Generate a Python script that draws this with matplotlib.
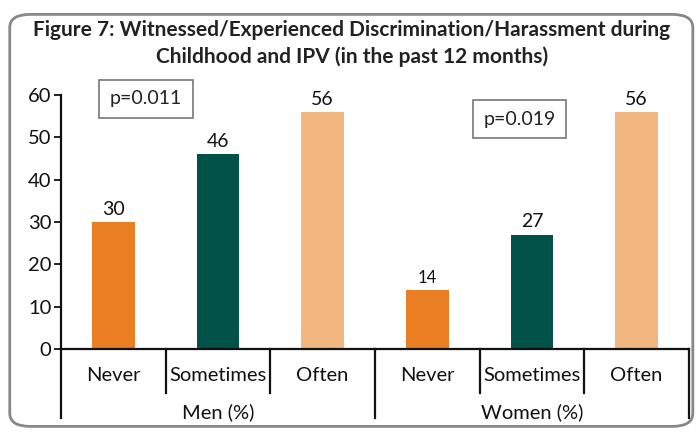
import matplotlib
matplotlib.use('Agg')
import matplotlib.pyplot as plt
from matplotlib.patches import FancyBboxPatch
from matplotlib.lines import Line2D

plt.rcParams['font.family'] = ['Lato', 'DejaVu Sans']

# ── 데이터 ────────────────────────────────────────────────────────────────
groups     = ['Men (%)', 'Women (%)']
categories = ['Never', 'Sometimes', 'Often']
men_vals   = [30, 46, 56]
women_vals = [14, 27, 56]
p_values   = ['p=0.011', 'p=0.019']
title      = ('Figure 7: Witnessed/Experienced Discrimination/Harassment during\n'
              'Childhood and IPV (in the past 12 months)')

COLORS = ['#E97E22', '#02524A', '#F2B680']

fig = plt.figure(figsize=(6.97, 4.36), dpi=100)
ax = fig.add_axes([0.0875, 0.1995, 0.901, 0.5825])

values = men_vals + women_vals
xs = list(range(len(values)))
ax.bar(xs, values, width=0.41, color=COLORS * 2, zorder=2)

# 값 라벨 (작은 값은 글자도 작게)
for x, v in zip(xs, values):
    size = 12 if v < 20 else 14
    ax.text(x, v + 1.0, f'{v}', ha='center', va='bottom', fontsize=size, color='#111')

ax.set_xlim(-0.5, len(values) - 0.5)
ax.set_ylim(0, 60)
ax.set_yticks(range(0, 61, 10))
ax.tick_params(axis='y', labelsize=14.5, length=5, width=1.3, pad=2, colors='#111')
ax.set_xticks([])
for s in ('top', 'right'):
    ax.spines[s].set_visible(False)
for s in ('left', 'bottom'):
    ax.spines[s].set_linewidth(1.6)
    ax.spines[s].set_color('#111')

# 카테고리 / 그룹 라벨과 구분선 (axes 좌표 기준 아래쪽)
trans = ax.get_xaxis_transform()
n = len(values)
for i in range(n + 1):
    xpos = i - 0.5
    tall = i % 3 == 0
    y_end = -0.27 if tall else -0.175
    ax.add_line(Line2D([xpos, xpos], [0, y_end], transform=trans,
                       color='#111', lw=1.6, clip_on=False))
for i in range(n):
    ax.text(i, -0.105, categories[i % 3], transform=trans, ha='center',
            va='center', fontsize=14.5, color='#111')
for g, name in enumerate(groups):
    ax.text(g * 3 + 1, -0.25, name, transform=trans, ha='center',
            va='center', fontsize=14.5, color='#111')

# p 값 박스
box = dict(boxstyle='square,pad=0.55', fc='white', ec='#777', lw=1.2)
ax.text(0.31, 0.985, p_values[0], transform=trans, ha='center', va='center',
        fontsize=14, color='#222', bbox=box)
ax.text(3.88, 0.905, p_values[1], transform=trans, ha='center', va='center',
        fontsize=14, color='#222', bbox=box)

# 제목
fig.text(0.505, 0.9, title, ha='center', va='center', fontsize=15,
         fontweight='bold', color='#222', linespacing=1.35)

# 바깥 테두리
frame = FancyBboxPatch((0.014, 0.022), 0.98, 0.945, transform=fig.transFigure,
                       boxstyle='round,pad=0,rounding_size=0.03',
                       fc='none', ec='#888', lw=2)
fig.patches.append(frame)

fig.savefig('out.png', dpi=100)
